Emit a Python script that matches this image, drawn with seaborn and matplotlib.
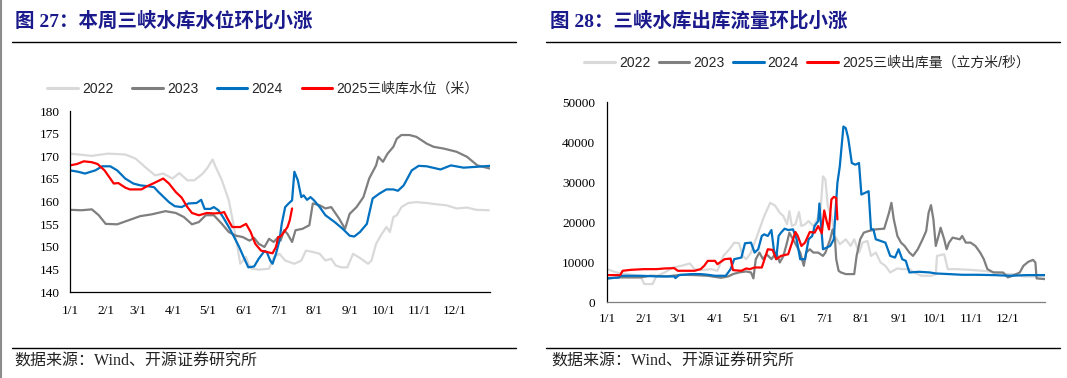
import numpy as np
import pandas as pd
import matplotlib
matplotlib.use("Agg")
import matplotlib.pyplot as plt
import seaborn as sns
from matplotlib.lines import Line2D
from matplotlib.font_manager import FontProperties

# ---------------- data ----------------
series_names_lvl = ["2022", "2023", "2024", "2025三峡库水位（米）"]
series_names_flow = ["2022", "2023", "2024", "2025三峡出库量（立方米/秒）"]
colors = ["#D9D9D9", "#7F7F7F", "#0070C0", "#FF0000"]

month_days = [0, 31, 59, 90, 120, 151, 181, 212, 243, 273, 304, 334]
month_labels = ["1/1", "2/1", "3/1", "4/1", "5/1", "6/1", "7/1", "8/1", "9/1", "10/1", "11/1", "12/1"]

# Water level (m)
lvl22_day = [0, 19, 33, 48, 57, 65, 74, 81, 89, 95, 102, 108, 115, 119, 124, 126, 132, 138, 142, 145, 148,
             153, 155, 158, 164, 173, 177, 182, 187, 195, 201, 205, 211, 217, 222, 227, 231, 236, 241, 246,
             253, 259, 262, 266, 271, 275, 278, 281, 284, 288, 294, 301, 310, 319, 327, 336, 345, 353, 364]
lvl22_val = [170.6, 170.1, 170.6, 170.4, 169.5, 167.7, 165.8, 166.2, 165.1, 166.3, 164.7, 164.7, 166.1, 167.3,
             169.3, 168.0, 164.7, 160.3, 155.1, 150.7, 146.3, 147.8, 146.3, 145.2, 145.0, 145.2, 147.7, 148.5,
             147.0, 146.3, 147.0, 149.2, 148.9, 148.5, 147.0, 147.4, 145.9, 145.5, 145.5, 148.5, 147.4, 146.3,
             147.0, 150.7, 152.9, 154.4, 153.3, 156.6, 157.0, 158.8, 159.7, 159.9, 159.7, 159.4, 159.2, 158.5,
             158.7, 158.2, 158.1]

lvl23_day = [0, 10, 19, 25, 31, 41, 51, 61, 71, 83, 92, 99, 106, 112, 118, 125, 132, 138, 144, 150, 156, 160,
             164, 169, 173, 177, 181, 183, 186, 189, 193, 196, 202, 208, 211, 217, 222, 227, 230, 234, 239, 243,
             249, 255, 260, 266, 268, 272, 276, 281, 284, 288, 295, 301, 310, 316, 325, 336, 345, 354, 365]
lvl23_val = [158.2, 158.1, 158.3, 157.0, 155.1, 155.0, 155.9, 156.8, 157.2, 157.9, 157.5, 156.6, 155.0, 155.5,
             157.0, 157.0, 155.1, 153.3, 152.5, 152.2, 151.4, 152.0, 150.7, 150.0, 151.8, 151.1, 152.2, 151.4,
             153.7, 152.9, 151.1, 153.7, 154.0, 154.8, 159.6, 159.2, 158.5, 158.8, 157.7, 156.2, 154.0, 157.3,
             158.8, 161.0, 165.1, 168.0, 169.9, 168.8, 170.6, 172.1, 173.9, 174.7, 174.7, 174.3, 172.8, 172.1,
             171.7, 171.0, 169.9, 168.0, 167.3]

lvl24_day = [0, 7, 13, 22, 28, 35, 41, 48, 55, 61, 68, 73, 77, 86, 91, 97, 103, 110, 114, 117, 122, 125, 129,
             133, 138, 142, 147, 151, 155, 160, 164, 169, 171, 174, 176, 179, 182, 184, 187, 190, 193, 195, 198,
             201, 203, 206, 209, 212, 217, 222, 230, 237, 243, 247, 252, 258, 263, 269, 275, 281, 285, 290, 297,
             303, 310, 322, 331, 342, 354, 365]
lvl24_val = [166.9, 166.6, 166.2, 166.9, 167.8, 167.8, 166.9, 165.1, 164.0, 163.6, 163.4, 163.2, 162.1, 159.9,
             159.0, 158.8, 159.6, 159.7, 160.4, 158.4, 158.4, 158.8, 158.1, 156.6, 154.4, 152.5, 150.0, 147.7,
             145.5, 145.7, 147.4, 149.1, 148.9, 147.0, 146.3, 148.5, 151.4, 155.1, 158.8, 159.6, 160.3, 166.6,
             164.7, 161.0, 161.4, 160.4, 161.0, 160.3, 158.8, 157.0, 155.5, 154.0, 152.5, 152.3, 153.3, 155.1,
             160.7, 161.8, 162.7, 162.7, 162.4, 163.6, 166.9, 167.9, 167.8, 167.1, 168.0, 167.5, 167.7, 167.9]

lvl25_day = [0, 6, 12, 19, 24, 30, 35, 38, 42, 48, 52, 62, 67, 73, 77, 81, 86, 92, 97, 102, 106, 112, 119, 125,
             131, 134, 137, 141, 148, 153, 157, 161, 166, 171, 176, 179, 181, 183, 186, 189, 191, 193]
lvl25_val = [168.0, 168.3, 168.9, 168.7, 168.3, 166.9, 165.1, 164.0, 164.1, 163.1, 162.7, 162.7, 163.4, 164.1,
             164.6, 165.1, 164.0, 162.1, 160.9, 158.8, 157.5, 157.0, 157.5, 157.4, 157.5, 157.7, 156.2, 154.4,
             154.4, 155.1, 153.3, 150.7, 149.2, 148.9, 148.6, 150.0, 152.2, 152.3, 153.3, 154.4, 155.9, 158.5]

# Outflow (m3/s)
flow22_day = [0, 8, 17, 28, 31, 38, 41, 48, 55, 62, 69, 73, 78, 87, 92, 97, 102, 106, 110, 113, 116, 120, 124,
              127, 131, 136, 140, 144, 147, 150, 152, 154, 157, 160, 162, 165, 168, 172, 175, 178, 180, 182, 184,
              187, 190, 194, 199, 203, 206, 210, 213, 217, 220, 224, 228, 232, 236, 242, 246, 252, 256, 262, 270,
              274, 275, 281, 284, 291, 302, 313, 325, 333, 341, 347, 358, 365]
flow22_val = [8290, 7460, 7050, 6470, 4560, 4560, 6470, 7460, 8700, 9120, 9700, 8290, 8040, 8290, 7880, 11600,
              13260, 14900, 14760, 11600, 10780, 12430, 15750, 18240, 21550, 24870, 24200, 22380, 21550, 19480,
              22800, 19070, 19480, 22550, 19070, 19480, 20310, 19070, 20720, 23210, 31500, 30670, 24040, 21550,
              16580, 14500, 15750, 14090, 15750, 12430, 14920, 15340, 11600, 12430, 9950, 9120, 7460, 8460, 8290,
              8290, 7460, 6630, 6630, 7050, 11600, 12020, 8290, 8290, 8120, 7880, 7460, 7050, 7050, 6470, 6470,
              6470]

flow23_day = [0, 11, 28, 36, 50, 62, 73, 84, 95, 101, 105, 110, 116, 120, 122, 124, 127, 130, 133, 137, 141,
              144, 147, 150, 152, 155, 158, 161, 164, 166, 169, 172, 176, 180, 182, 186, 188, 190, 191, 193, 195,
              199, 206, 208, 211, 214, 218, 224, 231, 235, 237, 239, 242, 245, 248, 252, 255, 259, 263, 266, 268,
              270, 272, 274, 277, 278, 281, 283, 285, 288, 294, 296, 299, 303, 307, 311, 314, 317, 322, 330, 334,
              338, 344, 347, 351, 355, 357, 358, 365]
flow23_val = [5970, 6220, 6220, 6630, 6470, 6880, 6800, 6630, 6130, 6470, 7050, 7460, 7710, 7460, 5970, 10780,
              12430, 10780, 12020, 10780, 12430, 9950, 11600, 14920, 17410, 15750, 14090, 12430, 9120, 12430,
              13260, 12430, 12430, 11600, 12430, 15750, 18240, 15750, 10780, 7880, 7460, 7050, 7050, 11600,
              15750, 17410, 17820, 18240, 18400, 22380, 24870, 20720, 16580, 14920, 14090, 12430, 11600, 13260,
              15750, 17820, 22380, 24290, 20720, 14090, 17410, 18650, 15750, 13260, 14920, 16170, 15750, 16580,
              14920, 14920, 14090, 12430, 10780, 8290, 7460, 7460, 6220, 6630, 7460, 9120, 10110, 10610, 9950,
              5970, 5800]

flow24_day = [0, 10, 11, 28, 42, 56, 57, 60, 70, 78, 84, 90, 99, 103, 106, 112, 115, 120, 123, 126, 129, 131,
              134, 137, 139, 141, 143, 145, 148, 151, 155, 158, 161, 165, 168, 171, 173, 176, 177, 178, 180, 186,
              189, 190, 192, 194, 196, 197, 199, 201, 204, 207, 210, 212, 215, 218, 220, 222, 224, 228, 232, 236,
              240, 243, 246, 249, 252, 260, 269, 274, 285, 296, 308, 322, 336, 350, 365]
flow24_val = [5970, 6220, 6630, 6630, 6470, 6470, 6050, 6800, 7050, 7050, 6880, 6630, 6630, 8290, 10780, 11190,
              14760, 14920, 12430, 13260, 16580, 17000, 16580, 18070, 13260, 10780, 16580, 17410, 18400, 18070,
              18240, 15750, 10780, 10780, 15750, 16580, 19070, 20310, 24700, 20720, 13260, 14090, 15750, 20720,
              29840, 33990, 40620, 43940, 43520, 41030, 34820, 34400, 34820, 26940, 27360, 27770, 18240, 18240,
              15750, 15340, 14920, 11600, 11190, 13260, 10780, 10360, 7460, 7630, 7460, 7210, 7050, 6880, 6880,
              6800, 6630, 6800, 6800]

flow25_day = [0, 11, 13, 20, 31, 41, 48, 56, 59, 73, 78, 81, 84, 90, 92, 98, 103, 105, 112, 116, 119, 123, 129,
              134, 138, 141, 145, 151, 154, 157, 159, 162, 165, 169, 173, 176, 179, 181, 183, 185, 187, 189, 191,
              192]
flow25_val = [6800, 6800, 7880, 8120, 8290, 8290, 8460, 8540, 7880, 7880, 8290, 9120, 10360, 10360, 9530, 10780,
              10940, 8040, 7880, 8460, 8290, 8700, 8700, 13260, 13100, 10780, 11600, 12020, 14760, 17580, 16580,
              14090, 14920, 17580, 17410, 19070, 17240, 22960, 20310, 18240, 25700, 26360, 26110, 20720]


def long_frame(names, days_list, vals_list):
    parts = []
    for n, d, v in zip(names, days_list, vals_list):
        parts.append(pd.DataFrame({"day": d, "value": v, "series": n}))
    return pd.concat(parts, ignore_index=True)


df_lvl = long_frame(series_names_lvl, [lvl22_day, lvl23_day, lvl24_day, lvl25_day],
                    [lvl22_val, lvl23_val, lvl24_val, lvl25_val])
df_flow = long_frame(series_names_flow, [flow22_day, flow23_day, flow24_day, flow25_day],
                     [flow22_val, flow23_val, flow24_val, flow25_val])

# ---------------- style ----------------
sns.set_theme(style="white")
plt.rcParams["font.family"] = ["Liberation Serif", "Noto Sans CJK SC", "DejaVu Sans"]
plt.rcParams["axes.unicode_minus"] = False

W, H = 1067, 378
fig = plt.figure(figsize=(W / 100, H / 100), dpi=100)
fig.patch.set_facecolor("white")


def fx(px):
    return px / W


def fy(py):
    return 1 - py / H


ax1 = fig.add_axes([fx(70), fy(292.3), fx(490) - fx(70), fy(111) - fy(292.3)])
ax2 = fig.add_axes([fx(607), fy(302.3), fx(1045) - fx(607), fy(102.3) - fy(302.3)])

lw = 1.6
sns.lineplot(data=df_lvl, x="day", y="value", hue="series", hue_order=series_names_lvl,
             palette=colors, estimator=None, linewidth=lw, legend=False, ax=ax1)
sns.lineplot(data=df_flow, x="day", y="value", hue="series", hue_order=series_names_flow,
             palette=colors, estimator=None, linewidth=lw, legend=False, ax=ax2)

tick_font = FontProperties(family=["Liberation Serif"], size=9.5)

for ax, ylim, yticks, ypad, xpad in [
    (ax1, (140, 180), list(range(140, 181, 5)), 7.5, 9),
    (ax2, (0, 50000), list(range(0, 50001, 10000)), 8.5, 8),
]:
    ax.set_xlim(0, 365)
    ax.set_ylim(*ylim)
    ax.set_yticks(yticks)
    ax.set_yticklabels([str(t) for t in yticks], fontproperties=tick_font)
    ax.set_xticks(month_days + [365])
    ax.set_xticklabels(month_labels + [""], fontproperties=tick_font)
    ax.set_xlabel("")
    ax.set_ylabel("")
    ax.grid(False)
    ax.set_facecolor("white")
    for s in ["top", "right"]:
        ax.spines[s].set_visible(False)
    for s in ["left", "bottom"]:
        ax.spines[s].set_color("black")
        ax.spines[s].set_linewidth(0.9)
    ax.tick_params(axis="both", direction="in", length=3.5, width=0.8, color="black", labelcolor="black")
    ax.tick_params(axis="y", pad=ypad)
    ax.tick_params(axis="x", pad=xpad)

ax2.spines["bottom"].set_color("#7F7F7F")
ax2.tick_params(axis="x", color="#404040")

# legends
leg_font = FontProperties(family=["Liberation Sans", "Noto Sans CJK SC"], size=10)
for names, cx, cy, colsp in [(series_names_lvl, 263, 89, 1.35), (series_names_flow, 807, 63, 0.6)]:
    handles = [Line2D([0], [0], color=c, lw=2.2) for c in colors]
    fig.legend(handles, names, loc="center", bbox_to_anchor=(fx(cx), fy(cy)), ncol=4, frameon=False,
               prop=leg_font, handlelength=2.2, handletextpad=0.3, columnspacing=colsp, borderaxespad=0,
               borderpad=0)

# titles
title_font = FontProperties(family=["Liberation Serif", "Noto Sans CJK SC"], size=14, weight="bold")
fig.text(fx(15), fy(21), "图 27：本周三峡水库水位环比小涨", fontproperties=title_font, color="#1A1A8C",
         ha="left", va="center")
fig.text(fx(550), fy(21), "图 28：三峡水库出库流量环比小涨", fontproperties=title_font, color="#1A1A8C",
         ha="left", va="center")

# separator lines
for x0, x1 in [(12, 516), (546, 1060)]:
    fig.add_artist(Line2D([fx(x0), fx(x1)], [fy(42), fy(42)], color="black", lw=1.0))
    fig.add_artist(Line2D([fx(x0), fx(x1)], [fy(348), fy(348)], color="black", lw=1.0))

# footers
foot_font = FontProperties(family=["Liberation Serif", "Noto Sans CJK SC"], size=11.5)
fig.text(fx(14), fy(362), "数据来源：Wind、开源证券研究所", fontproperties=foot_font, color="#222222",
         ha="left", va="center")
fig.text(fx(551), fy(362), "数据来源：Wind、开源证券研究所", fontproperties=foot_font, color="#222222",
         ha="left", va="center")

# page border on the left
fig.add_artist(Line2D([fx(1), fx(1)], [0, 1], color="#8C8C8C", lw=1.5))

fig.savefig("out.png", dpi=100, facecolor="white")
